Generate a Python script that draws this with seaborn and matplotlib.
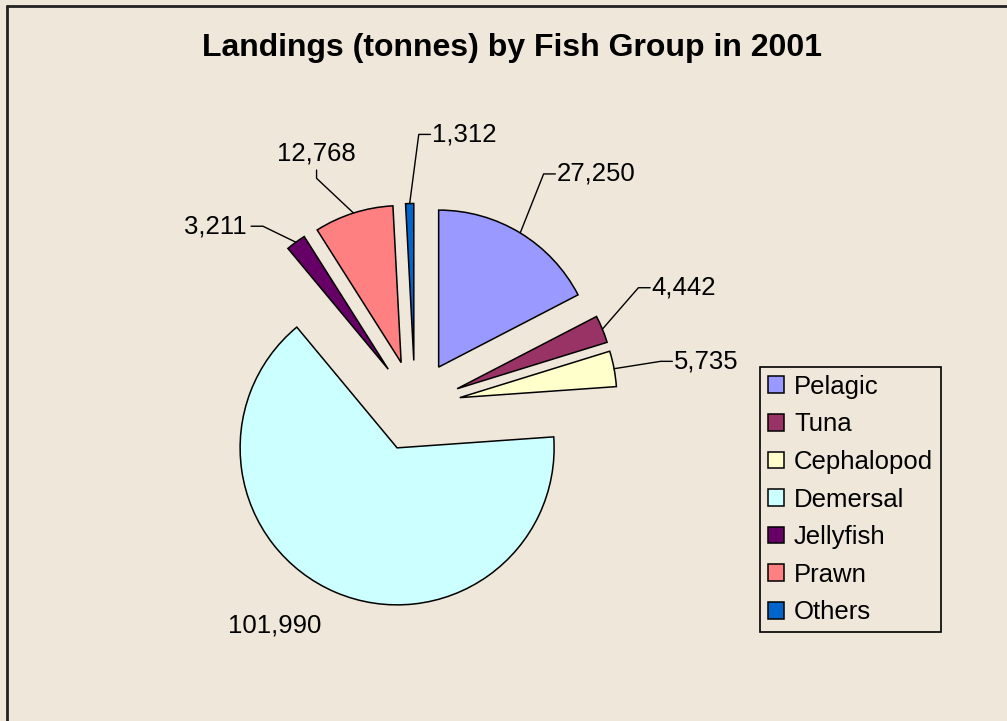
import numpy as np
import matplotlib
matplotlib.use('Agg')
import matplotlib.pyplot as plt
from matplotlib.lines import Line2D
import seaborn as sns

# data
groups = ['Pelagic', 'Tuna', 'Cephalopod', 'Demersal', 'Jellyfish', 'Prawn', 'Others']
landings = [27250, 4442, 5735, 101990, 3211, 12768, 1312]
colors = ['#9999FF', '#993366', '#FFFFCC', '#CCFFFF', '#660066', '#FF8080', '#0066CC']

bg = '#EFE7DA'
sns.set_theme(style='white')
plt.rcParams['font.family'] = ['Liberation Sans', 'DejaVu Sans']
plt.rcParams['text.color'] = 'black'

W, H = 1007, 721
fig = plt.figure(figsize=(W / 100, H / 100), dpi=100, facecolor=bg)

# pie centre (px) and radius (px)
cx, cy, rpx = 415, 406, 157
lim = 1.9
half = lim * rpx
ax = fig.add_axes([(cx - half) / W, (H - cy - half) / H, 2 * half / W, 2 * half / H])
ax.set_facecolor(bg)

explode_r = 0.29
wedges, _ = ax.pie(landings, colors=colors, startangle=90, counterclock=False,
                   explode=[explode_r] * len(landings), radius=1,
                   wedgeprops=dict(edgecolor='black', linewidth=1.1))
ax.set_xlim(-lim, lim)
ax.set_ylim(-lim, lim)
ax.set_aspect('equal')
ax.axis('off')

# label layout: elbow distance, angle nudge (deg), leader style
lab_dist = [1.69, 1.61, 1.59, 1.66, 1.50, 1.58, 1.73]
lab_nudge = [2.3, 5.6, -0.3, -9.5, 4.2, 5.7, -2.3]
lab_side = ['right', 'right', 'right', 'none', 'left', 'up', 'right']

tick = 0.075
gap = 0.03
fs = 18.5
for w, val, d, nd, side in zip(wedges, landings, lab_dist, lab_nudge, lab_side):
    mid = np.deg2rad((w.theta1 + w.theta2) / 2)
    ox, oy = w.center
    ax0 = ox + np.cos(mid)
    ay0 = oy + np.sin(mid)
    ang = mid + np.deg2rad(nd)
    ex, ey = d * np.cos(ang), d * np.sin(ang)
    txt = f'{val:,}'
    if side == 'none':
        ax.text(ex, ey, txt, ha='center', va='center', fontsize=fs)
        continue
    if side == 'right':
        tx, ty = ex + tick, ey
        ax.plot([ax0, ex, tx], [ay0, ey, ty], color='black', lw=1, clip_on=False)
        ax.text(tx + gap * 0.3, ty, txt, ha='left', va='center', fontsize=fs)
    elif side == 'left':
        tx, ty = ex - tick, ey
        ax.plot([ax0, ex, tx], [ay0, ey, ty], color='black', lw=1, clip_on=False)
        ax.text(tx - gap, ty, txt, ha='right', va='center', fontsize=fs)
    else:
        tx, ty = ex, ey + tick * 0.7
        ax.plot([ax0, ex, tx], [ay0, ey, ty], color='black', lw=1, clip_on=False)
        ax.text(tx, ty + gap, txt, ha='center', va='bottom', fontsize=fs)

fig.text(0.508, 1 - 48 / H, 'Landings (tonnes) by Fish Group in 2001',
         ha='center', va='center', fontsize=23, fontweight='bold')

leg = fig.legend(wedges, groups, loc='upper left',
                 bbox_to_anchor=(760 / W, 1 - 367 / H), fontsize=fs,
                 frameon=True, fancybox=False, edgecolor='black', facecolor=bg,
                 framealpha=1, handlelength=0.62, handleheight=0.62,
                 handletextpad=0.4, labelspacing=0.53, borderpad=0.3,
                 borderaxespad=0)
leg.get_frame().set_linewidth(1.2)

# outer frame (left and top edges visible)
fig.add_artist(Line2D([7 / W, 7 / W], [0, 1 - 6 / H], color='#222222', lw=2,
                      transform=fig.transFigure))
fig.add_artist(Line2D([7 / W, 1], [1 - 6 / H, 1 - 6 / H], color='#222222', lw=2,
                      transform=fig.transFigure))

fig.savefig('out.png', dpi=100, facecolor=bg)
